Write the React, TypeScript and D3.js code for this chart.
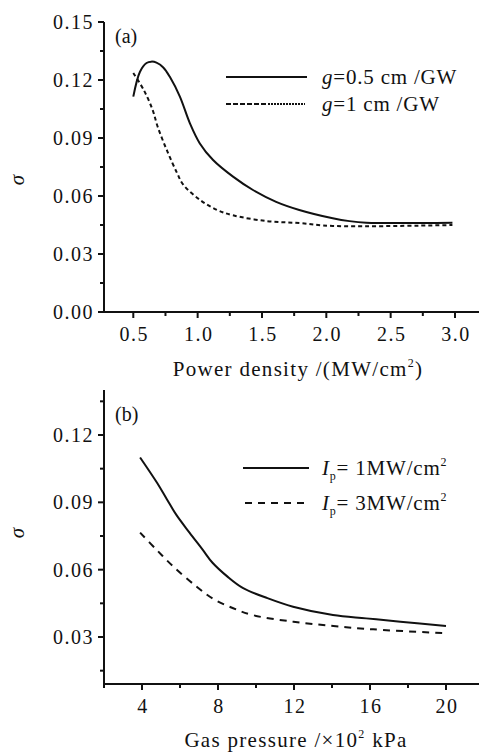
import React from "react";
import * as d3 from "d3";

// Panel (a)
const aSolidX = [0.5, 0.552, 0.603, 0.64, 0.68, 0.733, 0.785, 0.862, 0.94, 1.017, 1.12, 1.275, 1.43, 1.61, 1.79, 2.05, 2.18, 2.31, 2.98];
const aSolidY = [0.1114, 0.1243, 0.1288, 0.1295, 0.129, 0.1265, 0.1215, 0.1114, 0.0976, 0.0872, 0.0786, 0.070, 0.0631, 0.057, 0.0528, 0.0485, 0.047, 0.0462, 0.0462];
const aDashX = [0.5, 0.58, 0.65, 0.69, 0.76, 0.84, 0.89, 1.02, 1.15, 1.275, 1.54, 1.79, 2.05, 2.98];
const aDashY = [0.1236, 0.115, 0.1045, 0.0957, 0.0838, 0.0719, 0.0657, 0.0579, 0.0528, 0.050, 0.047, 0.046, 0.0445, 0.045];
const aXTicks = [0.5, 1.0, 1.5, 2.0, 2.5, 3.0];
const aXMinor = [0.75, 1.25, 1.75, 2.25, 2.75];
const aYTicks = [0.0, 0.03, 0.06, 0.09, 0.12, 0.15];
const aYMinor = [0.015, 0.045, 0.075, 0.105, 0.135];

// Panel (b)
const bSolidX = [3.9, 4.8, 5.3, 5.8, 6.5, 7.2, 7.7, 8.5, 9.3, 10.6, 11.95, 14.05, 15.8, 17.6, 20];
const bSolidY = [0.110, 0.0986, 0.0915, 0.0845, 0.0765, 0.0688, 0.0632, 0.0569, 0.0519, 0.0473, 0.0435, 0.0398, 0.0383, 0.0368, 0.0349];
const bDashX = [3.9, 4.77, 5.65, 6.88, 7.75, 8.8, 9.86, 11.97, 14.07, 16.17, 19.98];
const bDashY = [0.0765, 0.0688, 0.0614, 0.0524, 0.0470, 0.0428, 0.0397, 0.0368, 0.0349, 0.0334, 0.0317];
const bXTicks = [4, 8, 12, 16, 20];
const bXMinor = [2, 6, 10, 14, 18];
const bYTicks = [0.03, 0.06, 0.09, 0.12];
const bYMinor = [0.015, 0.045, 0.075, 0.105, 0.135];

const FONT = "'Liberation Serif', 'Times New Roman', serif";

export default function App() {
  const ax = d3.scaleLinear().domain([0.5, 3.0]).range([133.3, 455]);
  const ay = d3.scaleLinear().domain([0, 0.15]).range([312, 22]);
  const bx = d3.scaleLinear().domain([4, 20]).range([142, 446]);
  const by = d3.scaleLinear().domain([0.03, 0.12]).range([637, 435]);

  const mkLine = (xs: any, ys: any) =>
    d3.line<number>().x((d: any) => xs(d[0])).y((d: any) => ys(d[1])).curve(d3.curveCatmullRom.alpha(0.5));

  const pts = (X: number[], Y: number[]) => X.map((x, i) => [x, Y[i]] as any);

  const axisLeftX = 104;
  const rightEnd = 479;

  const tickLabelStyle: any = { fontFamily: FONT, fontSize: 20, letterSpacing: 1.5, fill: "#111" };

  const renderPanel = (
    xs: any, ys: any, xT: number[], xM: number[], yT: number[], yM: number[],
    xFmt: (v: number) => string, yFmt: (v: number) => string, top: number, bottom: number
  ) => (
    <g>
      <line x1={axisLeftX} x2={axisLeftX} y1={top} y2={bottom} stroke="#111" strokeWidth={2} />
      <line x1={axisLeftX} x2={rightEnd} y1={bottom} y2={bottom} stroke="#111" strokeWidth={2} />
      {yT.map((v) => (
        <g key={"yt" + v}>
          <line x1={axisLeftX - 6} x2={axisLeftX} y1={ys(v)} y2={ys(v)} stroke="#111" strokeWidth={2} />
          <text x={axisLeftX - 10} y={ys(v) + 7} textAnchor="end" style={tickLabelStyle}>{yFmt(v)}</text>
        </g>
      ))}
      {yM.filter((v) => ys(v) >= top && ys(v) <= bottom).map((v) => (
        <line key={"ym" + v} x1={axisLeftX - 4} x2={axisLeftX} y1={ys(v)} y2={ys(v)} stroke="#111" strokeWidth={2} />
      ))}
      {xT.map((v) => (
        <g key={"xt" + v}>
          <line x1={xs(v)} x2={xs(v)} y1={bottom} y2={bottom + 6} stroke="#111" strokeWidth={2} />
          <text x={xs(v) + 1} y={bottom + 29} textAnchor="middle" style={tickLabelStyle}>{xFmt(v)}</text>
        </g>
      ))}
      {xM.map((v) => (
        <line key={"xm" + v} x1={xs(v)} x2={xs(v)} y1={bottom} y2={bottom + 4} stroke="#111" strokeWidth={2} />
      ))}
    </g>
  );

  const la = mkLine(ax, ay);
  const lb = mkLine(bx, by);

  const legendStyle: any = { fontFamily: FONT, fontSize: 21, letterSpacing: 0.8, fill: "#111" };
  const labelStyle: any = { fontFamily: FONT, fontSize: 21, letterSpacing: 1.3, fill: "#111" };

  return (
    <svg width={479} height={752} style={{ position: "absolute", left: 0, top: 0, background: "#fff" }}>
      {/* Panel (a) */}
      {renderPanel(ax, ay, aXTicks, aXMinor, aYTicks, aYMinor, (v) => v.toFixed(1), (v) => v.toFixed(2), 22, 312)}
      <path d={la(pts(aSolidX, aSolidY)) || ""} fill="none" stroke="#111" strokeWidth={2} />
      <path d={la(pts(aDashX, aDashY)) || ""} fill="none" stroke="#111" strokeWidth={2} strokeDasharray="4,3" />
      <text x={115} y={43} style={{ fontFamily: FONT, fontSize: 20, fill: "#111" }}>(a)</text>
      <line x1={226} x2={307} y1={77} y2={77} stroke="#111" strokeWidth={2} />
      <path d="M226,104 L270,104" stroke="#111" strokeWidth={2} strokeDasharray="5,2" />
      <path d="M271,104 L305,104" stroke="#111" strokeWidth={2} strokeDasharray="2,1" />
      <text x={322} y={84} style={legendStyle}>
        <tspan fontStyle="italic">g</tspan>=0.5 cm /GW
      </text>
      <text x={322} y={111} style={legendStyle}>
        <tspan fontStyle="italic">g</tspan>=1 cm /GW
      </text>
      <text x={298} y={376} textAnchor="middle" style={labelStyle}>
        Power density /(MW/cm<tspan dy={-9} fontSize={12}>2</tspan><tspan dy={9}>)</tspan>
      </text>
      <text transform="translate(24,180) rotate(-90)" textAnchor="middle" style={{ fontFamily: FONT, fontSize: 21, fontStyle: "italic", fill: "#111" }}>σ</text>

      {/* Panel (b) */}
      {renderPanel(bx, by, bXTicks, bXMinor, bYTicks, bYMinor, (v) => String(v), (v) => v.toFixed(2), 390, 684)}
      <path d={lb(pts(bSolidX, bSolidY)) || ""} fill="none" stroke="#111" strokeWidth={2} />
      <path d={lb(pts(bDashX, bDashY)) || ""} fill="none" stroke="#111" strokeWidth={2} strokeDasharray="7,6" />
      <text x={115} y={421} style={{ fontFamily: FONT, fontSize: 20, fill: "#111" }}>(b)</text>
      <line x1={243} x2={309} y1={468} y2={468} stroke="#111" strokeWidth={2} />
      <line x1={245} x2={309} y1={503} y2={503} stroke="#111" strokeWidth={2} strokeDasharray="7,6" />
      <text x={322} y={475} style={legendStyle}>
        <tspan fontStyle="italic">I</tspan><tspan dy={5} fontSize={12}>p</tspan><tspan dy={-5}>= 1MW/cm</tspan><tspan dy={-9} fontSize={12}>2</tspan>
      </text>
      <text x={322} y={510} style={legendStyle}>
        <tspan fontStyle="italic">I</tspan><tspan dy={5} fontSize={12}>p</tspan><tspan dy={-5}>= 3MW/cm</tspan><tspan dy={-9} fontSize={12}>2</tspan>
      </text>
      <text x={296} y={747} textAnchor="middle" style={labelStyle}>
        Gas  pressure /×10<tspan dy={-9} fontSize={12}>2</tspan><tspan dy={9}> kPa</tspan>
      </text>
      <text transform="translate(24,533) rotate(-90)" textAnchor="middle" style={{ fontFamily: FONT, fontSize: 21, fontStyle: "italic", fill: "#111" }}>σ</text>
    </svg>
  );
}
